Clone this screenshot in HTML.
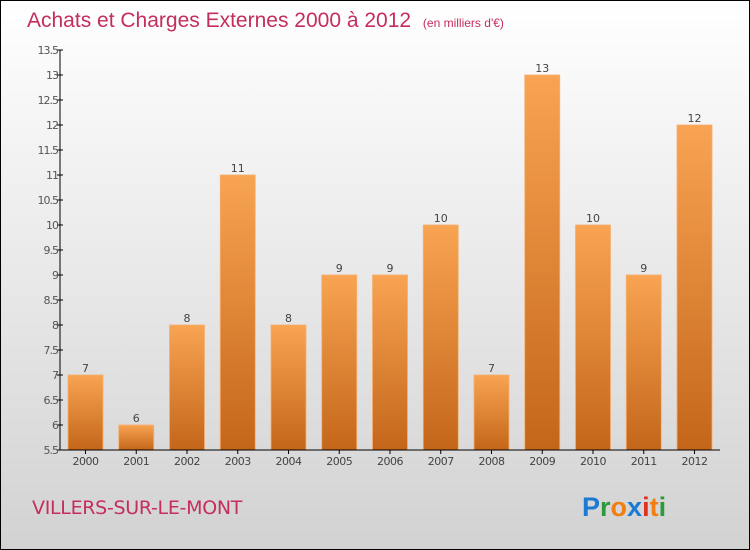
<!DOCTYPE html>
<html><head><meta charset="utf-8"><style>
body{margin:0;width:750px;height:550px;overflow:hidden}
svg{display:block;font-family:"DejaVu Sans","Liberation Sans",sans-serif}
</style></head><body>
<svg width="750" height="550">
<defs>
<linearGradient id="bg" x1="0" y1="0" x2="0" y2="1"><stop offset="0" stop-color="#ffffff"/><stop offset="1" stop-color="#d2d2d2"/></linearGradient>
<linearGradient id="bar" x1="0" y1="0" x2="0" y2="1"><stop offset="0" stop-color="#f8a452"/><stop offset="1" stop-color="#c4661a"/></linearGradient>
</defs>
<rect x="0.5" y="0.5" width="749" height="549" fill="url(#bg)" stroke="#000"/>
<text x="27" y="27" font-size="21" fill="#c42e5c" font-family="'Liberation Sans',sans-serif">Achats et Charges Externes 2000 à 2012 <tspan font-size="12" dx="6">(en milliers d'€)</tspan></text>
<g id="yaxis"></g>
<g id="bars"></g>
<g id="xaxis"></g>
<text x="32" y="514" font-size="19" fill="#c42e5c" style="letter-spacing:-0.3px">VILLERS-SUR-LE-MONT</text>
<g font-size="27" font-family="'Liberation Sans',sans-serif" font-weight="bold">
<text x="582" y="516" fill="#1a7ad4">P<tspan fill="#2a9a3a">r</tspan><tspan fill="#f07e10">o</tspan><tspan fill="#1a7ad4">x</tspan><tspan fill="#e03020">i</tspan><tspan fill="#f07e10">t</tspan><tspan fill="#2a9a3a">i</tspan></text>
</g>
</svg>
<script>
const years=["2000","2001","2002","2003","2004","2005","2006","2007","2008","2009","2010","2011","2012"];
const values=[7,6,8,11,8,9,9,10,7,13,10,9,12];
const yTicks=[5.5,6,6.5,7,7.5,8,8.5,9,9.5,10,10.5,11,11.5,12,12.5,13,13.5];
const NS="http://www.w3.org/2000/svg";
const y0=450,y1=50,vmin=5.5,vmax=13.5,x0=60,band=50.75;
function yScale(v){return y0-(v-vmin)/(vmax-vmin)*(y0-y1);}
function xScale(i){return x0+band*i;}
function mk(t,a,p){const e=document.createElementNS(NS,t);for(const k in a)e.setAttribute(k,a[k]);p.appendChild(e);return e;}
const ya=document.getElementById('yaxis'),xa=document.getElementById('xaxis'),bg=document.getElementById('bars');
mk('line',{x1:x0,y1:y1,x2:x0,y2:y0,stroke:'#000'},ya);
yTicks.forEach(t=>{const y=yScale(t);
 mk('line',{x1:x0-3,y1:y,x2:x0+3,y2:y,stroke:'#000'},ya);
 const tx=mk('text',{x:x0-2,y:y+4,'text-anchor':'end','font-size':11,fill:'#555','letter-spacing':'-1'},ya);
 
 
 tx.textContent=String(t);});
mk('line',{x1:x0,y1:y0,x2:720,y2:y0,stroke:'#000'},xa);
years.forEach((yr,i)=>{const bx=xScale(i)+8,top=yScale(values[i]);
 const r=mk('rect',{x:bx,y:top,width:35,height:y0-top,fill:'url(#bar)',stroke:'#f6b070','stroke-width':0.8},bg);
 
 
 const l=mk('text',{x:bx+17.5,y:top-3,'text-anchor':'middle','font-size':11,fill:'#444'},bg);
 
 
 l.textContent=values[i];
 mk('line',{x1:bx+17.5,y1:y0,x2:bx+17.5,y2:y0+4,stroke:'#000'},xa);
 const xl=mk('text',{x:bx+17.5,y:y0+15,'text-anchor':'middle','font-size':11,fill:'#444','letter-spacing':'-0.5'},xa);
 
 
 xl.textContent=yr;});
</script>
</body></html>
